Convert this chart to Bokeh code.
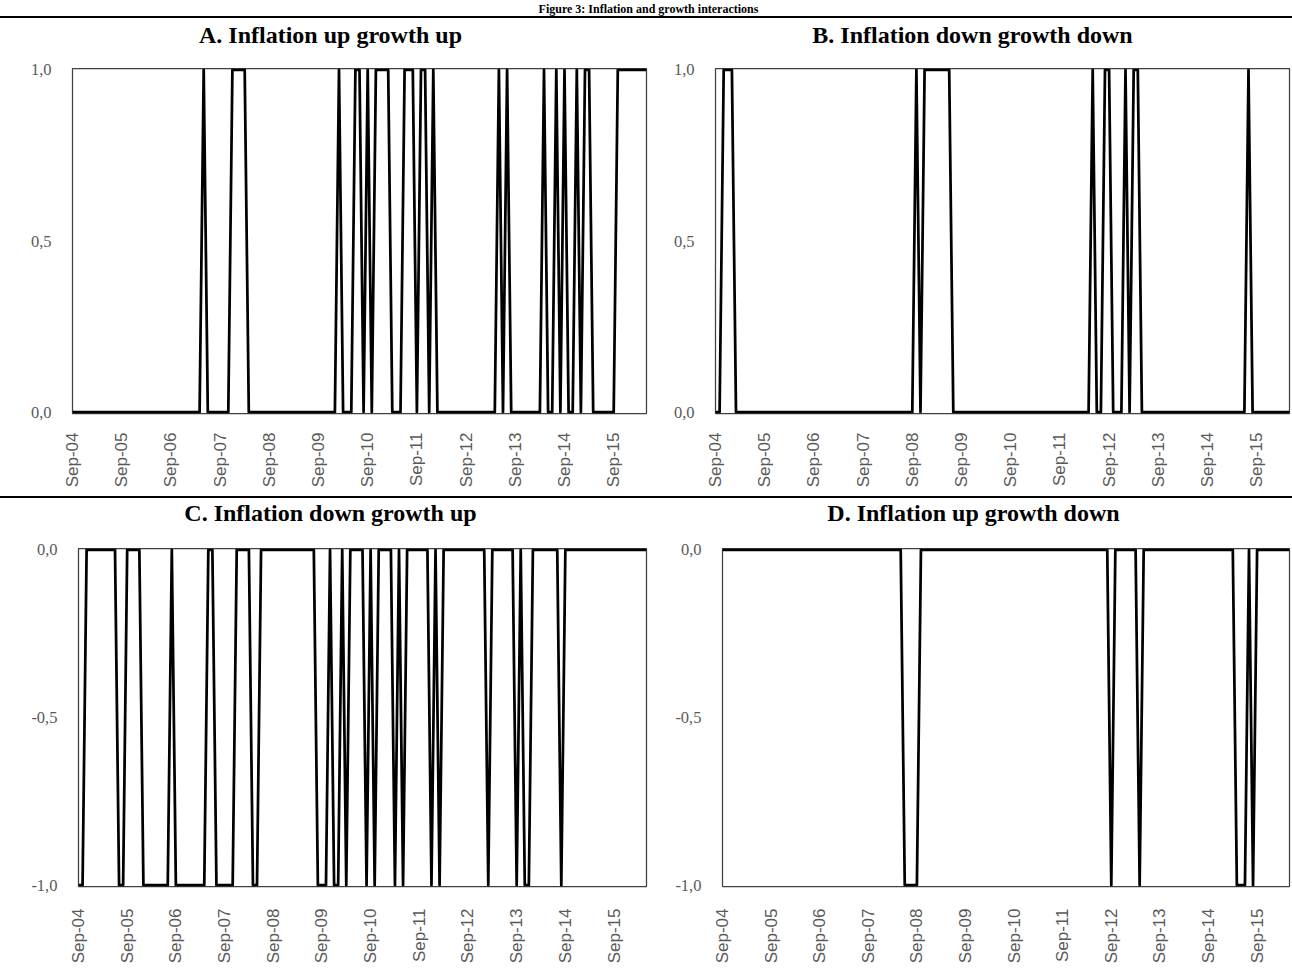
import math
from bokeh.plotting import figure
from bokeh.layouts import column, row
from bokeh.models import Range1d, FixedTicker, Label, Div
from bokeh.embed import file_html
from bokeh.resources import INLINE

# ---------------- data (monthly, index 0 = Sep-04, 141 months) ----------------
tick_labels = ["Sep-04", "Sep-05", "Sep-06", "Sep-07", "Sep-08", "Sep-09",
               "Sep-10", "Sep-11", "Sep-12", "Sep-13", "Sep-14", "Sep-15"]

# A. Inflation up growth up (one row per year, Sep..Aug)
infl_up_growth_up = (
    [0, 0, 0, 0, 0, 0, 0, 0, 0, 0, 0, 0] +
    [0, 0, 0, 0, 0, 0, 0, 0, 0, 0, 0, 0] +
    [0, 0, 0, 0, 0, 0, 0, 0, 1, 0, 0, 0] +
    [0, 0, 0, 1, 1, 1, 1, 0, 0, 0, 0, 0] +
    [0, 0, 0, 0, 0, 0, 0, 0, 0, 0, 0, 0] +
    [0, 0, 0, 0, 0, 1, 0, 0, 0, 1, 1, 0] +
    [1, 0, 1, 1, 1, 1, 0, 0, 0, 1, 1, 1] +
    [0, 1, 1, 0, 1, 0, 0, 0, 0, 0, 0, 0] +
    [0, 0, 0, 0, 0, 0, 0, 0, 1, 0, 1, 0] +
    [0, 0, 0, 0, 0, 0, 0, 1, 0, 0, 1, 0] +
    [1, 0, 0, 1, 0, 1, 1, 0, 0, 0, 0, 0] +
    [0, 1, 1, 1, 1, 1, 1, 1, 1]
)

# B. Inflation down growth down
infl_down_growth_down = (
    [0, 0, 1, 1, 1, 0, 0, 0, 0, 0, 0, 0] +
    [0, 0, 0, 0, 0, 0, 0, 0, 0, 0, 0, 0] +
    [0, 0, 0, 0, 0, 0, 0, 0, 0, 0, 0, 0] +
    [0, 0, 0, 0, 0, 0, 0, 0, 0, 0, 0, 0] +
    [0, 1, 0, 1, 1, 1, 1, 1, 1, 1, 0, 0] +
    [0, 0, 0, 0, 0, 0, 0, 0, 0, 0, 0, 0] +
    [0, 0, 0, 0, 0, 0, 0, 0, 0, 0, 0, 0] +
    [0, 0, 0, 0, 0, 0, 0, 0, 1, 0, 0, 1] +
    [1, 0, 0, 0, 1, 0, 1, 1, 0, 0, 0, 0] +
    [0, 0, 0, 0, 0, 0, 0, 0, 0, 0, 0, 0] +
    [0, 0, 0, 0, 0, 0, 0, 0, 0, 0, 1, 0] +
    [0, 0, 0, 0, 0, 0, 0, 0, 0]
)

# C. Inflation down growth up
infl_down_growth_up = (
    [-1, -1, 0, 0, 0, 0, 0, 0, 0, 0, -1, -1] +
    [0, 0, 0, 0, -1, -1, -1, -1, -1, -1, -1, 0] +
    [-1, -1, -1, -1, -1, -1, -1, -1, 0, 0, -1, -1] +
    [-1, -1, -1, 0, 0, 0, 0, -1, -1, 0, 0, 0] +
    [0, 0, 0, 0, 0, 0, 0, 0, 0, 0, 0, -1] +
    [-1, -1, 0, -1, -1, 0, -1, 0, 0, 0, 0, -1] +
    [0, -1, 0, 0, 0, 0, -1, 0, -1, 0, 0, 0] +
    [0, 0, 0, -1, 0, -1, 0, 0, 0, 0, 0, 0] +
    [0, 0, 0, 0, 0, -1, 0, 0, 0, 0, 0, 0] +
    [-1, 0, -1, -1, 0, 0, 0, 0, 0, 0, 0, -1] +
    [0, 0, 0, 0, 0, 0, 0, 0, 0, 0, 0, 0] +
    [0, 0, 0, 0, 0, 0, 0, 0, 0]
)

# D. Inflation up growth down
infl_up_growth_down = (
    [0, 0, 0, 0, 0, 0, 0, 0, 0, 0, 0, 0] +
    [0, 0, 0, 0, 0, 0, 0, 0, 0, 0, 0, 0] +
    [0, 0, 0, 0, 0, 0, 0, 0, 0, 0, 0, 0] +
    [0, 0, 0, 0, 0, 0, 0, 0, 0, -1, -1, -1] +
    [-1, 0, 0, 0, 0, 0, 0, 0, 0, 0, 0, 0] +
    [0, 0, 0, 0, 0, 0, 0, 0, 0, 0, 0, 0] +
    [0, 0, 0, 0, 0, 0, 0, 0, 0, 0, 0, 0] +
    [0, 0, 0, 0, 0, 0, 0, 0, 0, 0, 0, 0] +
    [-1, 0, 0, 0, 0, 0, 0, -1, 0, 0, 0, 0] +
    [0, 0, 0, 0, 0, 0, 0, 0, 0, 0, 0, 0] +
    [0, 0, 0, 0, 0, 0, 0, -1, -1, -1, 0, -1] +
    [0, 0, 0, 0, 0, 0, 0, 0, 0]
)

month_index = list(range(len(infl_up_growth_up)))
tick_positions = [12 * i for i in range(len(tick_labels))]

# ---------------- styling ----------------
SERIF = "Liberation Serif"
SANS = "Liberation Sans"
GRAY = "#595959"


def blank(width, height):
    s = figure(width=width, height=height, output_backend="svg",
               toolbar_location=None, min_border=0,
               x_axis_location=None, y_axis_location=None)
    s.outline_line_color = None
    s.xgrid.visible = False
    s.ygrid.visible = False
    return s


def title_box(text, width, height, cx, cy, size):
    # cx, cy: screen position of the text centre within the (frame-aligned) box
    t = blank(width, height)
    t.add_layout(Label(x=cx, y=cy, x_units="screen", y_units="screen", text=text,
                       text_align="center", text_baseline="middle",
                       text_font=SERIF, text_font_size=size,
                       text_font_style="bold", text_color="black"))
    return t


def panel(values, y_ticks, y_labels, width, height, bl, br, bt, bb, x_standoff):
    lo, hi = min(y_ticks), max(y_ticks)
    pad = 0.004 * (hi - lo)
    p = figure(width=width, height=height, output_backend="svg",
               toolbar_location=None,
               x_range=Range1d(month_index[0], month_index[-1]),
               y_range=Range1d(lo - pad, hi + pad),
               min_border_left=bl, min_border_right=br,
               min_border_top=bt, min_border_bottom=bb)

    p.line(month_index, values, line_width=2.75, line_color="black",
           line_join="round")

    p.xgrid.visible = False
    p.ygrid.visible = False
    p.outline_line_color = "#404040"
    p.outline_line_width = 1.25
    p.background_fill_color = "white"
    p.border_fill_color = "white"

    xa = p.xaxis[0]
    xa.ticker = FixedTicker(ticks=tick_positions)
    xa.major_label_overrides = {pos: lab for pos, lab in zip(tick_positions, tick_labels)}
    xa.major_label_orientation = math.pi / 2
    xa.major_label_text_font = SANS
    xa.major_label_text_font_size = "17px"
    xa.major_label_text_color = GRAY
    xa.major_label_standoff = x_standoff
    xa.axis_line_color = None
    xa.major_tick_line_color = None
    xa.minor_tick_line_color = None

    ya = p.yaxis[0]
    ya.ticker = FixedTicker(ticks=y_ticks)
    ya.major_label_overrides = {t: lab for t, lab in zip(y_ticks, y_labels)}
    ya.major_label_text_font = SERIF
    ya.major_label_text_font_size = "16.5px"
    ya.major_label_text_color = GRAY
    ya.major_label_standoff = 15
    ya.axis_line_color = None
    ya.major_tick_line_color = None
    ya.minor_tick_line_color = None
    return p


pos_ticks = [0.0, 0.5, 1.0]
pos_labels = ["0,0", "0,5", "1,0"]
neg_ticks = [-1.0, -0.5, 0.0]
neg_labels = ["-1,0", "-0,5", "0,0"]

LW, RW = 650, 642

# title boxes share the frame alignment of the panel below them (column layout)
tA = title_box("A. Inflation up growth up", LW, 38, 258, 22, "24px")
tB = title_box("B. Inflation down growth down", RW, 38, 257, 22, "24px")
tC = title_box("C. Inflation down growth up", LW, 38, 252, 24, "24px")
tD = title_box("D. Inflation up growth down", RW, 38, 251, 24, "24px")

pA = panel(infl_up_growth_up, pos_ticks, pos_labels, LW, 440, 72, 4, 12, 83, 13)
pB = panel(infl_down_growth_down, pos_ticks, pos_labels, RW, 440, 65, 3, 12, 83, 13)
pC = panel(infl_down_growth_up, neg_ticks, neg_labels, LW, 430, 78, 4, 12, 73, 16)
pD = panel(infl_up_growth_down, neg_ticks, neg_labels, RW, 430, 72, 3, 12, 73, 16)

top = title_box("Figure 3: Inflation and growth interactions", 1292, 16, 648, 8, "12px")


def rule():
    return Div(text="", width=1292, height=2, margin=(0, 0, 0, 0),
               styles={"background-color": "#000000"})


layout = column(top, rule(),
                row(column(tA, pA), column(tB, pB)),
                rule(),
                row(column(tC, pC), column(tD, pD)))

open("out.html", "w").write(file_html(layout, INLINE))
